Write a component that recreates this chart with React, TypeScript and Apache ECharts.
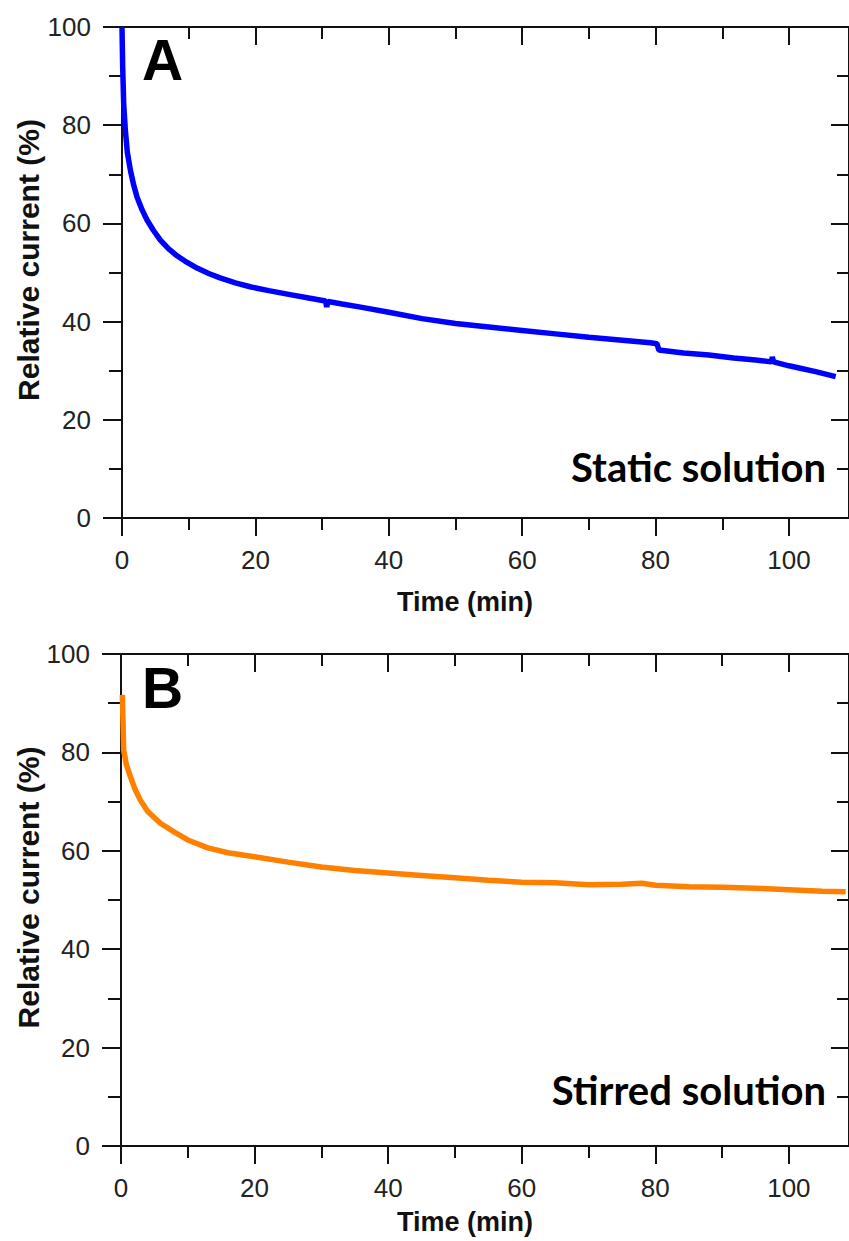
import React, { useEffect, useRef } from "react";
import * as echarts from "echarts";

// Panel A: static solution (time in min, relative current in %)
const staticTime = [0, 0.1, 0.25, 0.5, 0.8, 1.25, 1.75, 2.25, 3, 3.75, 4.7, 5.75, 7, 8.25, 9.7, 11.25, 13, 14.7, 17, 19.2, 22, 25.2, 28, 30.5, 30.7, 30.9, 33, 36, 40, 45, 50, 55, 60, 65, 70, 75, 79.2, 80.2, 80.5, 84.2, 88, 91.7, 95, 97.4, 97.5, 97.7, 100, 101.7, 104, 107];
const staticCurrent = [100, 92, 84.5, 79, 74.5, 70.9, 67.8, 65.4, 62.8, 60.7, 58.6, 56.6, 54.8, 53.4, 52.1, 50.9, 49.8, 48.9, 47.9, 47.1, 46.3, 45.5, 44.8, 44.2, 43.0, 44.1, 43.6, 42.9, 41.9, 40.6, 39.6, 38.9, 38.2, 37.5, 36.8, 36.2, 35.7, 35.5, 34.2, 33.6, 33.2, 32.6, 32.2, 31.8, 32.8, 31.8, 31.0, 30.5, 29.8, 28.8];

// Panel B: stirred solution
const stirredTime = [0.2, 0.4, 0.8, 1.4, 2.1, 2.9, 4, 5.9, 8, 10, 13, 16, 20, 25, 30, 35, 40, 45, 50, 55, 60, 65, 70, 75, 78, 80, 85, 90, 95, 100, 105, 108.5];
const stirredCurrent = [91.7, 80.5, 77.5, 75.1, 72.5, 70.3, 68.0, 65.6, 63.8, 62.2, 60.6, 59.6, 58.8, 57.7, 56.7, 56.0, 55.5, 55.0, 54.5, 54.0, 53.6, 53.5, 53.1, 53.2, 53.4, 53.0, 52.7, 52.6, 52.4, 52.1, 51.8, 51.7];

const xMajorTicks = [0, 20, 40, 60, 80, 100];
const xMinorTicks = [10, 30, 50, 70, 90];
const xMax = 109;
const yMin = 0;
const yMax = 100;
const yInterval = 20;

const panelLabels = ["A", "B"];
const panelNotes = ["Static solution", "Stirred solution"];
const xTitle = "Time (min)";
const yTitle = "Relative current (%)";
const seriesColors = ["#0000ff", "#ff8000"];

const AXIS_COLOR = "#111";
const LABEL_FONT = "'Liberation Sans', Arial, sans-serif";

export default function App() {
  const ref = useRef<HTMLDivElement>(null);

  useEffect(() => {
    if (!ref.current) return;
    const chart = echarts.init(ref.current, null, { renderer: "svg" });

    const grids = [
      { left: 122, top: 27, width: 727, height: 491 },
      { left: 121, top: 654, width: 728, height: 492 },
    ];

    const xAxes: any[] = [];
    const yAxes: any[] = [];
    grids.forEach((_, gi) => {
      const base = {
        type: "value",
        gridIndex: gi,
        min: 0,
        max: xMax,
        splitLine: { show: false },
      };
      xAxes.push({
        ...base,
        position: "bottom",
        axisLine: { show: true, onZero: false, lineStyle: { color: AXIS_COLOR, width: 2 } },
        axisTick: { show: true, inside: false, length: 18, customValues: xMajorTicks, lineStyle: { color: AXIS_COLOR, width: 2 } },
        axisLabel: { show: true, customValues: xMajorTicks, margin: 29, fontSize: 26, fontFamily: LABEL_FONT, color: "#222" },
      });
      xAxes.push({
        ...base,
        position: "bottom",
        axisLine: { show: false, onZero: false },
        axisTick: { show: true, inside: false, length: 12, customValues: xMinorTicks, lineStyle: { color: AXIS_COLOR, width: 2 } },
        axisLabel: { show: false },
      });
      xAxes.push({
        ...base,
        position: "top",
        axisLine: { show: true, onZero: false, lineStyle: { color: AXIS_COLOR, width: 2 } },
        axisTick: { show: true, inside: true, length: 18, customValues: xMajorTicks, lineStyle: { color: AXIS_COLOR, width: 2 } },
        axisLabel: { show: false },
      });
      xAxes.push({
        ...base,
        position: "top",
        axisLine: { show: false, onZero: false },
        axisTick: { show: true, inside: true, length: 12, customValues: xMinorTicks, lineStyle: { color: AXIS_COLOR, width: 2 } },
        axisLabel: { show: false },
      });

      const ybase = {
        type: "value",
        gridIndex: gi,
        min: yMin,
        max: yMax,
        interval: yInterval,
        splitLine: { show: false },
      };
      yAxes.push({
        ...ybase,
        position: "left",
        axisLine: { show: true, onZero: false, lineStyle: { color: AXIS_COLOR, width: 2 } },
        axisTick: { show: true, inside: false, length: 19, lineStyle: { color: AXIS_COLOR, width: 2 } },
        minorTick: { show: true, splitNumber: 2, length: 13, lineStyle: { color: AXIS_COLOR, width: 2 } },
        axisLabel: { show: true, margin: 31, fontSize: 26, fontFamily: LABEL_FONT, color: "#222" },
      });
      yAxes.push({
        ...ybase,
        position: "right",
        axisLine: { show: true, onZero: false, lineStyle: { color: AXIS_COLOR, width: 2 } },
        axisTick: { show: true, inside: true, length: 18, lineStyle: { color: AXIS_COLOR, width: 2 } },
        minorTick: { show: true, splitNumber: 2, length: 12, lineStyle: { color: AXIS_COLOR, width: 2 } },
        axisLabel: { show: false },
      });
    });

    const seriesData = [
      staticTime.map((t, i) => [t, staticCurrent[i]]),
      stirredTime.map((t, i) => [t, stirredCurrent[i]]),
    ];

    const series = seriesData.map((data, gi) => ({
      type: "line",
      xAxisIndex: gi * 4,
      yAxisIndex: gi * 2,
      data,
      showSymbol: false,
      symbol: "none",
      lineStyle: { color: seriesColors[gi], width: 5.5 },
      itemStyle: { color: seriesColors[gi] },
      clip: false,
      z: 1,
    }));

    const panelOffsets = [0, 627.5];
    const graphic: any[] = [];
    panelOffsets.forEach((dy, gi) => {
      graphic.push({
        type: "text",
        x: 142,
        y: 60 + dy,
        style: {
          text: panelLabels[gi],
          fontSize: 57,
          fontWeight: "bold",
          fontFamily: LABEL_FONT,
          fill: "#000",
          align: "left",
          verticalAlign: "middle",
        },
      });
      graphic.push({
        type: "text",
        x: 826,
        y: gi === 0 ? 467 : 1090,
        style: {
          text: panelNotes[gi],
          fontSize: 40,
          fontWeight: "bold",
          fontFamily: "Lato, 'Open Sans', sans-serif",
          fill: "#000",
          align: "right",
          verticalAlign: "middle",
        },
      });
      graphic.push({
        type: "text",
        x: 465,
        y: gi === 0 ? 602 : 1222,
        style: {
          text: xTitle,
          fontSize: 27,
          fontWeight: "bold",
          fontFamily: LABEL_FONT,
          fill: "#111",
          align: "center",
          verticalAlign: "middle",
        },
      });
      graphic.push({
        type: "text",
        x: 28,
        y: 260 + dy,
        rotation: Math.PI / 2,
        style: {
          text: yTitle,
          fontSize: 30,
          fontWeight: "bold",
          fontFamily: LABEL_FONT,
          fill: "#111",
          align: "center",
          verticalAlign: "middle",
        },
      });
    });

    chart.setOption({
      animation: false,
      backgroundColor: "#fff",
      grid: grids,
      xAxis: xAxes,
      yAxis: yAxes,
      series,
      graphic,
    });

    return () => chart.dispose();
  }, []);

  return (
    <div
      ref={ref}
      style={{ position: "absolute", left: 0, top: 0, width: 849, height: 1241 }}
    />
  );
}
